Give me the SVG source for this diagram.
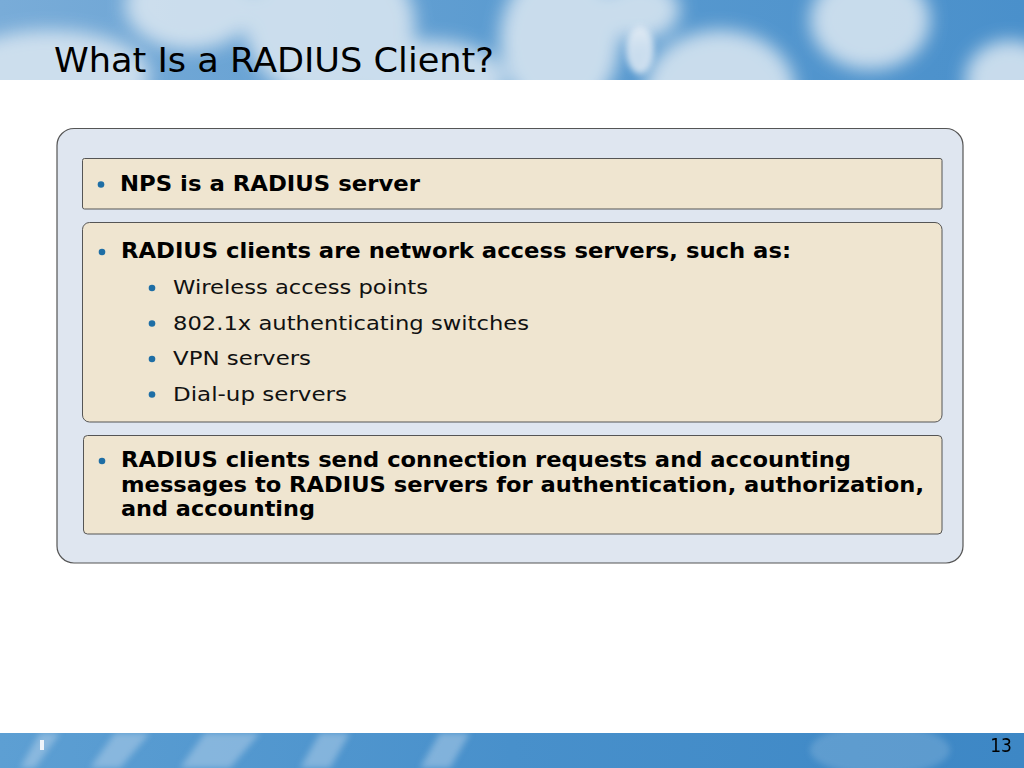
<svg xmlns="http://www.w3.org/2000/svg" width="1024" height="768" viewBox="0 0 1024 768">
<defs>
<filter id="blur" x="-30%" y="-30%" width="160%" height="160%"><feGaussianBlur stdDeviation="9"/></filter>
<filter id="blur2" x="-30%" y="-30%" width="160%" height="160%"><feGaussianBlur stdDeviation="3"/></filter>
<clipPath id="hdr"><rect x="0" y="0" width="1024" height="80"/></clipPath>
<clipPath id="ftr"><rect x="0" y="733" width="1024" height="35"/></clipPath>
<linearGradient id="hg" x1="0" y1="0" x2="1" y2="0">
<stop offset="0" stop-color="#79acd8"/><stop offset="0.5" stop-color="#5b9bd0"/><stop offset="1" stop-color="#4a90cb"/>
</linearGradient>
<linearGradient id="fg" x1="0" y1="0" x2="1" y2="0">
<stop offset="0" stop-color="#5d9fd3"/><stop offset="0.5" stop-color="#4890cb"/><stop offset="1" stop-color="#3d87c5"/>
</linearGradient>
</defs>
<style>
.panel{fill:#dfe6f0;stroke:#555;stroke-width:1.2}
.box{fill:#efe5d0;stroke:#555;stroke-width:1}
.b{font-family:"DejaVu Sans","Verdana",sans-serif;font-weight:bold;font-size:21px;fill:#000}
.r{font-family:"DejaVu Sans","Verdana",sans-serif;font-size:20px;fill:#111}
.dot{fill:#1e6ea5}
</style>
<rect width="1024" height="768" fill="#ffffff"/>
<g id="header" clip-path="url(#hdr)">
<rect x="0" y="0" width="1024" height="80" fill="url(#hg)"/>
<g fill="#d6e4f0" filter="url(#blur)" opacity="0.9">
<ellipse cx="50" cy="75" rx="100" ry="45"/>
<ellipse cx="190" cy="5" rx="65" ry="45"/>
<ellipse cx="330" cy="25" rx="85" ry="75"/>
<ellipse cx="430" cy="80" rx="75" ry="40"/>
<ellipse cx="560" cy="40" rx="60" ry="75"/>
<ellipse cx="640" cy="10" rx="40" ry="30"/>
<ellipse cx="720" cy="90" rx="75" ry="60"/>
<ellipse cx="870" cy="20" rx="60" ry="50"/>
<ellipse cx="1010" cy="80" rx="45" ry="40"/>
</g>
<ellipse cx="640" cy="50" rx="14" ry="24" fill="#e6eef6" filter="url(#blur2)" opacity="0.8"/>
</g>
<g id="title"><text x="54" y="72" style="font-family:'DejaVu Sans Condensed','DejaVu Sans',sans-serif;font-size:34px;fill:#000" textLength="440" lengthAdjust="spacingAndGlyphs">What Is a RADIUS Client?</text></g>
<g id="footer" clip-path="url(#ftr)">
<rect x="0" y="733" width="1024" height="35" fill="url(#fg)"/>
<g fill="#b9d3ea" filter="url(#blur2)" opacity="0.5">
<polygon points="20,768 40,733 60,733 35,768"/>
<polygon points="90,768 115,733 150,733 120,768"/>
<polygon points="180,768 205,733 260,733 230,768"/>
<polygon points="300,768 320,733 350,733 330,768"/>
<polygon points="420,768 440,733 470,733 450,768"/>
<ellipse cx="880" cy="750" rx="70" ry="25" opacity="0.5"/>
</g>
<rect x="40" y="740" width="4" height="10" fill="#eef4fa"/>
<text x="1012" y="752" text-anchor="end" style="font-family:'DejaVu Sans Condensed','DejaVu Sans',sans-serif;font-size:19px;fill:#000">13</text>
</g>
<g id="panel"><rect class="panel" x="57" y="128.5" width="906" height="434.5" rx="17"/></g>
<g id="box1">
<rect class="box" x="82.5" y="158.5" width="859.5" height="50.5" rx="2"/>
<circle class="dot" cx="101" cy="184.5" r="3.3"/>
<text class="b" x="120" y="191" textLength="300" lengthAdjust="spacingAndGlyphs">NPS is a RADIUS server</text>
</g>
<g id="box2">
<rect class="box" x="82.5" y="222.5" width="859.5" height="199.5" rx="7"/>
<circle class="dot" cx="102" cy="252" r="3.3"/>
<text class="b" x="121" y="258" textLength="670" lengthAdjust="spacingAndGlyphs">RADIUS clients are network access servers, such as:</text>
<circle class="dot" cx="152" cy="288" r="3.3"/>
<text class="r" x="173" y="294" textLength="255" lengthAdjust="spacingAndGlyphs">Wireless access points</text>
<circle class="dot" cx="152" cy="323.5" r="3.3"/>
<text class="r" x="173" y="330" textLength="356" lengthAdjust="spacingAndGlyphs">802.1x authenticating switches</text>
<circle class="dot" cx="152" cy="359" r="3.3"/>
<text class="r" x="173" y="365" textLength="138" lengthAdjust="spacingAndGlyphs">VPN servers</text>
<circle class="dot" cx="152" cy="394.5" r="3.3"/>
<text class="r" x="173" y="401" textLength="174" lengthAdjust="spacingAndGlyphs">Dial-up servers</text>
</g>
<g id="box3">
<rect class="box" x="83.5" y="435.5" width="858.5" height="98.5" rx="4"/>
<circle class="dot" cx="102" cy="461" r="3.3"/>
<text class="b" x="121" y="467" textLength="730" lengthAdjust="spacingAndGlyphs">RADIUS clients send connection requests and accounting</text>
<text class="b" x="121" y="491.5" textLength="803" lengthAdjust="spacingAndGlyphs">messages to RADIUS servers for authentication, authorization,</text>
<text class="b" x="121" y="516" textLength="194" lengthAdjust="spacingAndGlyphs">and accounting</text>
</g>
</svg>
